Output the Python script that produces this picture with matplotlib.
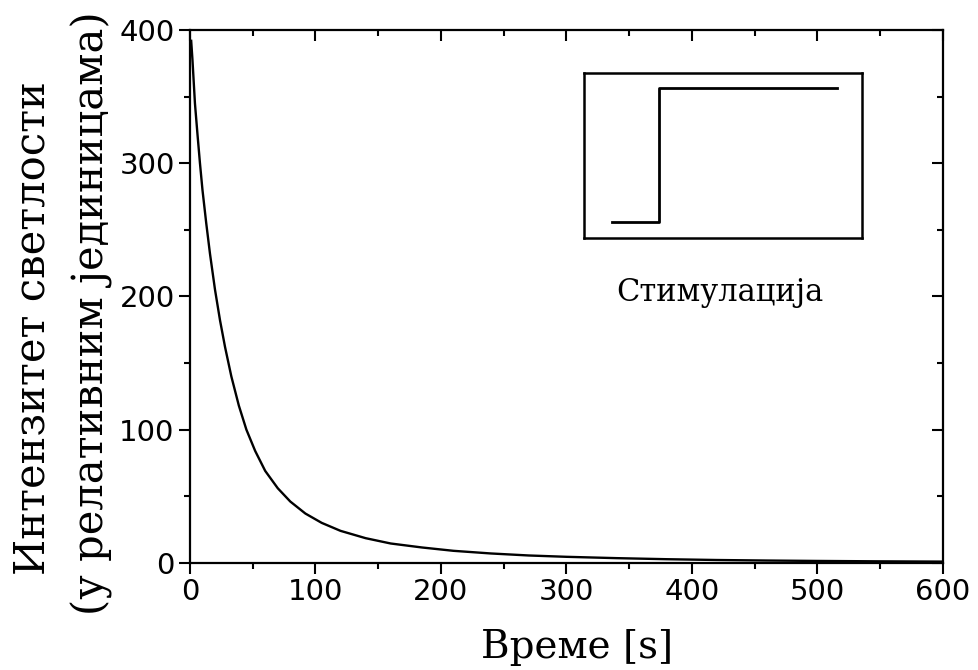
import numpy as np
import matplotlib.pyplot as plt
from matplotlib.ticker import MultipleLocator

# Light intensity decay after stimulation.
time_s = [1, 2, 4, 6, 8, 10, 13, 16, 20, 24, 28, 33, 39, 45, 52, 60, 70,
          80, 92, 105, 120, 140, 160, 185, 210, 240, 270, 300, 340, 380,
          420, 460, 500, 550, 600]
intensity = [392, 378, 345, 322, 300, 280, 255, 232, 205, 182, 162, 140, 118,
             100, 84, 69, 56, 46, 37, 30, 24, 18.5, 14.5, 11.5, 9, 7, 5.5,
             4.5, 3.5, 2.7, 2.1, 1.7, 1.4, 1.1, 0.9]

# Stimulus step shown in the inset (inset-local coordinates).
stim_t = [0.1, 0.27, 0.27, 0.91]
stim_v = [0.1, 0.1, 0.91, 0.91]

x_ticks = [0, 100, 200, 300, 400, 500, 600]
y_ticks = [0, 100, 200, 300, 400]

serif = ['DejaVu Serif']
plt.rcParams['font.family'] = ['DejaVu Sans']

W, H = 979, 670
fig = plt.figure(figsize=(W / 100, H / 100), dpi=100)
ax = fig.add_axes([0.194, 0.160, 0.769, 0.795])

ax.plot(time_s, intensity, color='black', lw=1.7)

ax.set_xlim(0, 600)
ax.set_ylim(0, 400)
ax.set_xticks(x_ticks)
ax.set_yticks(y_ticks)
ax.xaxis.set_minor_locator(MultipleLocator(50))
ax.yaxis.set_minor_locator(MultipleLocator(50))
ax.tick_params(axis='both', which='major', labelsize=21, width=1.5, length=8,
               direction='out', top=True, right=True, pad=3)
ax.tick_params(axis='both', which='minor', width=1.5, length=4,
               direction='out', top=True, right=True)
# ticks on top/right spines point inward
for tick in ax.xaxis.get_major_ticks() + ax.xaxis.get_minor_ticks():
    tick.tick2line.set_marker(3)
for tick in ax.yaxis.get_major_ticks() + ax.yaxis.get_minor_ticks():
    tick.tick2line.set_marker(0)
for sp in ax.spines.values():
    sp.set_linewidth(1.6)

# axis labels, placed by pixel (baseline anchored)
fig.text(577 / W, 1 - 658 / H, 'Време [s]', family=serif, fontsize=28,
         ha='center', va='baseline')
fig.text(45 / W, 1 - 328 / H, 'Интензитет светлости', family=serif,
         fontsize=30, rotation=90, rotation_mode='anchor',
         ha='center', va='baseline')
fig.text(104 / W, 1 - 313 / H, '(у релативним јединицама)', family=serif,
         fontsize=30, rotation=90, rotation_mode='anchor',
         ha='center', va='baseline')

# inset with the stimulus step
ins = fig.add_axes([584 / W, 1 - 238 / H, 278 / W, 165 / H])
ins.plot(stim_t, stim_v, color='black', lw=2)
ins.set_xlim(0, 1)
ins.set_ylim(0, 1)
ins.set_xticks([])
ins.set_yticks([])
for sp in ins.spines.values():
    sp.set_linewidth(1.8)
fig.text(720 / W, 1 - 292 / H, 'Стимулација', family=serif, fontsize=22,
         ha='center', va='center')

fig.savefig('out.png', dpi=100)
